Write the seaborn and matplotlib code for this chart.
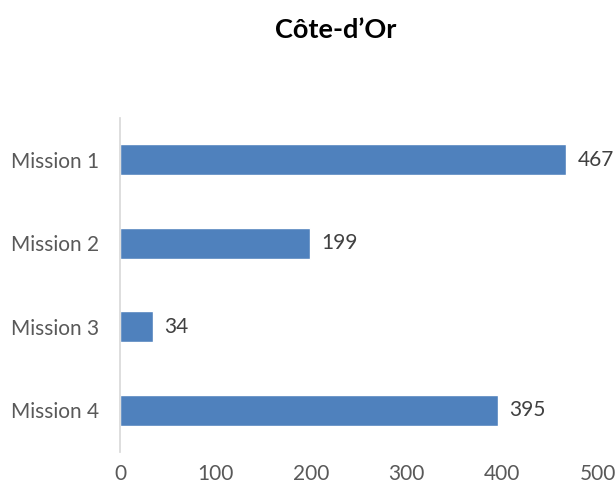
import matplotlib
matplotlib.use("Agg")
import matplotlib.pyplot as plt
import seaborn as sns
import pandas as pd

categories = ["Mission 1", "Mission 2", "Mission 3", "Mission 4"]
values = [467, 199, 34, 395]
xticks = [0, 100, 200, 300, 400, 500]
title = "Côte-d\u2019Or"

sns.set_theme(style="white")
plt.rcParams['font.family'] = ['Lato', 'DejaVu Sans']

df = pd.DataFrame({"cat": categories, "val": values})
fig = plt.figure(figsize=(6.16, 4.95), dpi=100)
ax = fig.add_axes([0.1948, 0.0869, 0.776, 0.6747])
sns.barplot(data=df, x="val", y="cat", color="#4F81BD", saturation=1, width=0.37, ax=ax)
ax.set_xlim(0, 500)
ax.set_xticks(xticks)
ax.set_xlabel("")
ax.set_ylabel("")
for s in ["top", "right", "bottom"]:
    ax.spines[s].set_visible(False)
ax.spines["left"].set_color("#D9D9D9")
ax.tick_params(axis="both", length=0, labelsize=15, labelcolor="#595959")
ax.tick_params(axis="x", pad=9)
ax.tick_params(axis="y", pad=15)
for i, v in enumerate(values):
    ax.text(v + 12, i, str(v), va="center", ha="left", fontsize=15, color="#404040")
fig.text(0.545, 0.94, title, ha="center", va="center", fontsize=19.5, fontweight="bold", color="#000000")
fig.savefig("out.png", dpi=100)
